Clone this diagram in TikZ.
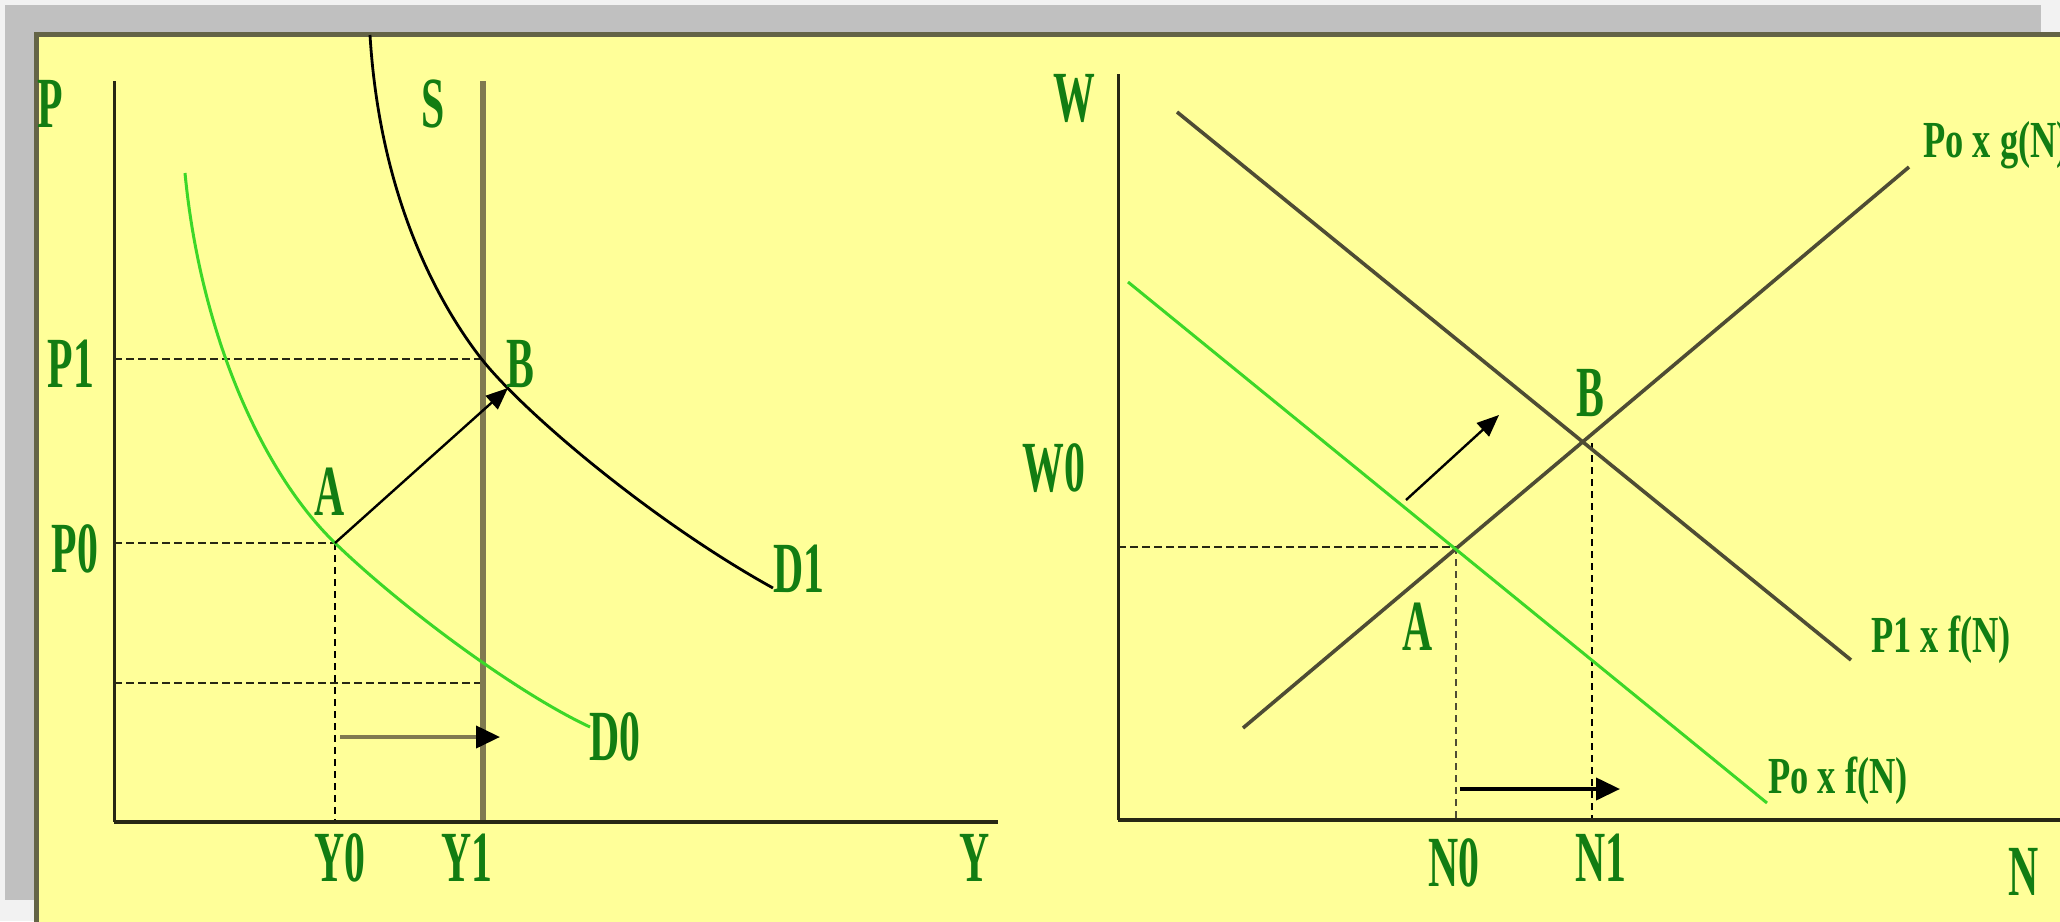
\documentclass[tikz,border=0pt]{standalone}
\usepackage{fontspec}
\setmainfont{Liberation Serif}
\newfontfamily\bigfont{Liberation Serif}[FakeStretch=0.58]
\newfontfamily\smallfont{Liberation Serif}[FakeStretch=0.7]
\usetikzlibrary{arrows.meta}
\definecolor{bgyellow}{RGB}{255,255,153}
\definecolor{shadowgray}{RGB}{192,192,192}
\definecolor{outerbg}{RGB}{242,242,242}
\definecolor{frameol}{RGB}{100,100,70}
\definecolor{txtgreen}{RGB}{18,125,18}
\definecolor{limeline}{RGB}{60,215,40}
\definecolor{oliveline}{RGB}{128,122,80}
\definecolor{darkol}{RGB}{78,76,52}
\definecolor{axiscol}{RGB}{40,40,20}
\begin{document}
\begin{tikzpicture}[x=0.5pt,y=-0.5pt,
  biglab/.style={text=txtgreen,inner sep=0pt,font=\bigfont\bfseries\fontsize{36}{40}\selectfont},
  smalllab/.style={text=txtgreen,inner sep=0pt,font=\smallfont\bfseries\fontsize{26}{30}\selectfont},
  axisv/.style={draw=axiscol,line width=1.5pt},
  axish/.style={draw=axiscol,line width=2pt},
  hdash/.style={draw=axiscol,line width=1.4pt,dash pattern=on 4pt off 2pt},
  vdash/.style={draw=black,line width=0.9pt,dash pattern=on 3.5pt off 2.5pt},
  demand/.style={draw=black,line width=1.4pt},
  greencurve/.style={draw=limeline,line width=1.5pt},
  darkline/.style={draw=darkol,line width=1.8pt},
  movearrow/.style={draw=black,line width=1.2pt,-{Triangle[length=11pt,width=9pt]}},
  shiftarrow/.style={line width=2pt,-{Triangle[length=12pt,width=11pt,color=black]}}
]
\useasboundingbox (0,0) rectangle (2060,921);
\clip (0,0) rectangle (2060,921);
% background, shadow, panel
\fill[outerbg] (0,0) rectangle (2060,921);
\fill[shadowgray] (5,5) rectangle (2041,900);
\filldraw[fill=bgyellow,draw=frameol,line width=2.5pt] (36,34) rectangle (2075,940);

% ---------- left panel ----------
\coordinate (LO) at (114,822);
\coordinate (LPtop) at (114,81);
\coordinate (LYend) at (998,822);
\coordinate (Stop) at (483,81);
\coordinate (Sbot) at (483,822);
\coordinate (LA) at (335,543);
\coordinate (LB) at (508,388);
\coordinate (LP1) at (114,359);
\coordinate (LS1) at (483,359);
\coordinate (LP0) at (114,543);
\coordinate (LY0) at (335,822);
\coordinate (LL1) at (114,683);
\coordinate (LL2) at (483,683);
\coordinate (LH1) at (340,737);
\coordinate (LH2) at (500,737);
\coordinate (D1top) at (370,35);
\coordinate (D1mid) at (480,357);
\coordinate (D1end) at (773,588);
\coordinate (D0top) at (185,173);
\coordinate (D0end) at (590,727);

\draw[hdash] (LP1) -- (LS1);
\draw[hdash] (LP0) -- (LA);
\draw[hdash] (LL1) -- (LL2);
\draw[vdash] (LA) -- (LY0);
\draw[draw=oliveline,line width=2.6pt] (Stop) -- (Sbot);
\draw[demand] (D1top) .. controls (380,200) and (440,305) .. (D1mid)
  .. controls (520,409) and (650,520) .. (D1end);
\draw[greencurve] (D0top) .. controls (200,330) and (260,470) .. (LA)
  .. controls (400,606) and (515,692) .. (D0end);
\draw[axisv] (LPtop) -- (LO);
\draw[axish] (LO) -- (LYend);
\draw[movearrow] (LA) -- (LB);
\draw[shiftarrow,draw=oliveline] (LH1) -- (LH2);

\node[biglab] (lP) at (50,104) {P};
\node[biglab] (lS) at (433,104) {S};
\node[biglab] (lP1) at (71,364) {P1};
\node[biglab] (lP0) at (75,549) {P0};
\node[biglab] (lAl) at (330,492) {A};
\node[biglab] (lBl) at (520,364) {B};
\node[biglab] (lD1) at (799,569) {D1};
\node[biglab] (lD0) at (615,737) {D0};
\node[biglab] (lY0) at (340,858) {Y0};
\node[biglab] (lY1) at (467,858) {Y1};
\node[biglab] (lY) at (975,858) {Y};

% ---------- right panel ----------
\coordinate (RO) at (1118,820);
\coordinate (RWtop) at (1118,74);
\coordinate (RNend) at (2065,820);
\coordinate (RD1) at (1177,112);
\coordinate (RD2) at (1851,660);
\coordinate (RU1) at (1243,728);
\coordinate (RU2) at (1909,167);
\coordinate (RG1) at (1128,282);
\coordinate (RG2) at (1767,803);
\coordinate (RA) at (1456,547);
\coordinate (RB) at (1592,443);
\coordinate (RW0) at (1118,547);
\coordinate (RN0) at (1456,820);
\coordinate (RN1) at (1592,820);
\coordinate (RM1) at (1406,500);
\coordinate (RM2) at (1499,415);
\coordinate (RH1) at (1460,789);
\coordinate (RH2) at (1620,789);

\draw[hdash] (RW0) -- (RA);
\draw[vdash,draw=darkol] (RA) -- (RN0);
\draw[vdash] (RB) -- (RN1);
\draw[darkline] (RD1) -- (RD2);
\draw[darkline] (RU1) -- (RU2);
\draw[greencurve] (RG1) -- (RG2);
\draw[axisv] (RWtop) -- (RO);
\draw[axish] (RO) -- (RNend);
\draw[movearrow] (RM1) -- (RM2);
\draw[shiftarrow,draw=black] (RH1) -- (RH2);

\node[biglab] (rW) at (1074,98) {W};
\node[biglab] (rW0) at (1054,468) {W0};
\node[biglab] (rBl) at (1590,393) {B};
\node[biglab] (rAl) at (1418,627) {A};
\node[biglab] (rN0) at (1454,863) {N0};
\node[biglab] (rN1) at (1601,858) {N1};
\node[biglab] (rN) at (2024,872) {N};
\node[smalllab] (rP1f) at (1941,640) {P1 x f(N)};
\node[smalllab] (rPof) at (1838,781) {Po x f(N)};
\node[smalllab,anchor=west] (rPog) at (1923,145) {Po x g(N)};
\end{tikzpicture}
\end{document}
